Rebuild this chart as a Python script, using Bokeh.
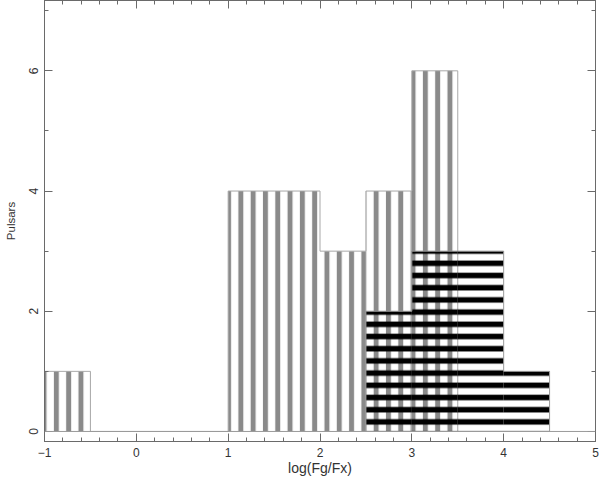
from bokeh.plotting import figure
from bokeh.models import LinearAxis, Span, SingleIntervalTicker, Range1d, CustomJSTickFormatter
from bokeh.embed import file_html
from bokeh.resources import INLINE

# Histogram of log(Fg/Fx): grey (vertical-striped) sample
gray_left = [-1.0, 1.0, 1.5, 2.0, 2.5, 3.0]
gray_right = [-0.5, 1.5, 2.0, 2.5, 3.0, 3.5]
gray_counts = [1, 4, 4, 3, 4, 6]

# black (horizontal-striped) sample
black_left = [2.5, 3.0, 3.5, 4.0]
black_right = [3.0, 3.5, 4.0, 4.5]
black_counts = [2, 3, 3, 1]

x_label = "log(Fg/Fx)"
y_label = "Pulsars"

AX = "#6a6a6a"
TXT = "#333333"
FONT = "Liberation Sans"


def step_outline(lefts, rights, counts):
    xs, ys = [lefts[0]], [0]
    prev_r = None
    for l, r, c in zip(lefts, rights, counts):
        if prev_r is not None and l != prev_r:
            xs += [prev_r, l]
            ys += [0, 0]
        xs += [l, r]
        ys += [c, c]
        prev_r = r
    xs.append(prev_r)
    ys.append(0)
    return xs, ys


p = figure(width=600, height=483,
           x_range=Range1d(-1, 5), y_range=Range1d(-0.167, 7.17),
           output_backend="svg", toolbar_location=None,
           x_axis_location=None, y_axis_location=None,
           min_border_left=44, min_border_right=5,
           min_border_top=0, min_border_bottom=42)
p.grid.visible = False
p.outline_line_color = AX
p.background_fill_color = "white"

blank = CustomJSTickFormatter(code="return ''")


def style(ax, labels=True):
    ax.major_tick_in = 8
    ax.major_tick_out = 0
    ax.minor_tick_in = 4
    ax.minor_tick_out = 0
    ax.axis_line_color = AX
    ax.major_tick_line_color = AX
    ax.minor_tick_line_color = AX
    if labels:
        ax.major_label_text_font = FONT
        ax.major_label_text_font_size = "12px"
        ax.major_label_text_color = TXT
        ax.axis_label_text_font = FONT
        ax.axis_label_text_font_style = "normal"
        ax.axis_label_text_color = TXT
    else:
        ax.formatter = blank
        ax.major_label_standoff = 0
        ax.axis_label_standoff = 0


xb = LinearAxis(ticker=SingleIntervalTicker(interval=1, num_minor_ticks=5), axis_label=x_label)
style(xb)
xb.axis_label_text_font_size = "14px"
xb.major_label_standoff = 6
xb.axis_label_standoff = 0
p.add_layout(xb, "below")

xt = LinearAxis(ticker=SingleIntervalTicker(interval=1, num_minor_ticks=5))
style(xt, labels=False)
p.add_layout(xt, "above")

yl = LinearAxis(ticker=SingleIntervalTicker(interval=2, num_minor_ticks=2), axis_label=y_label)
style(yl)
yl.axis_label_text_font_size = "11.5px"
yl.major_label_orientation = "vertical"
yl.major_label_standoff = 6
yl.axis_label_standoff = 10
p.add_layout(yl, "left")

yr = LinearAxis(ticker=SingleIntervalTicker(interval=2, num_minor_ticks=2))
style(yr, labels=False)
p.add_layout(yr, "right")

# grey histogram
p.quad(left=gray_left, right=gray_right, top=gray_counts, bottom=0,
       fill_color="white", fill_alpha=1.0,
       hatch_pattern="vertical_line", hatch_color="#8a8a8a",
       hatch_scale=12.3, hatch_weight=5, line_color=None)
gx, gy = step_outline(gray_left, gray_right, gray_counts)
p.line(gx, gy, line_color="#a8a8a8", line_width=1)

# black histogram
p.quad(left=black_left, right=black_right, top=black_counts, bottom=0,
       fill_alpha=0.0,
       hatch_pattern="horizontal_line", hatch_color="black",
       hatch_scale=12.2, hatch_weight=5.5, line_color=None)
bx, by = step_outline(black_left, black_right, black_counts)
p.line(bx, by, line_color="#999999", line_width=1)

p.add_layout(Span(location=0, dimension="width", line_color="#999999", line_width=1))

open("out.html", "w").write(file_html(p, INLINE))
